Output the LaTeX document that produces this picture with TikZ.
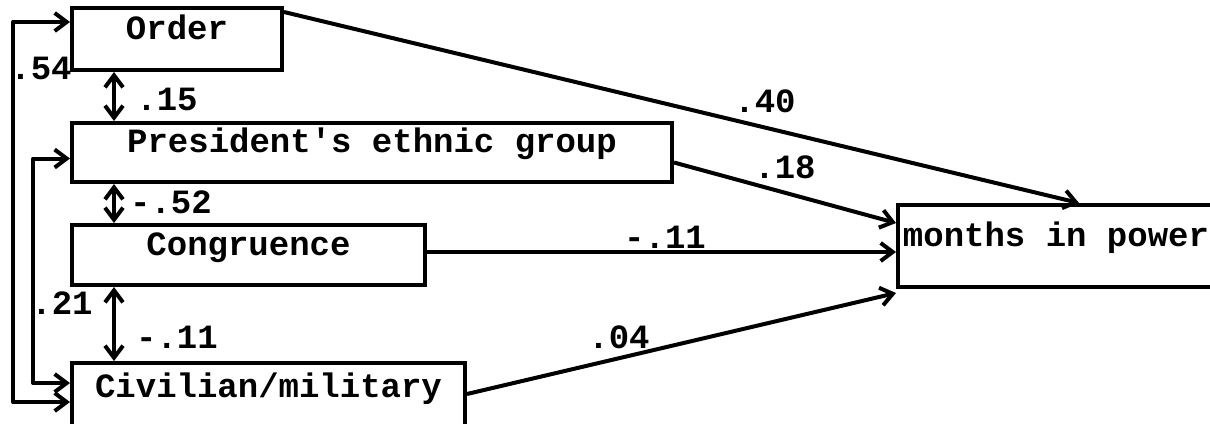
\documentclass[tikz,border=0pt]{standalone}
\usepackage{fontspec}
\setmonofont{Liberation Mono}
\usetikzlibrary{arrows.meta,calc}
\begin{document}
\begin{tikzpicture}[x=1pt,y=-1pt,
  txt/.style={font=\fontsize{34}{40}\selectfont\ttfamily\bfseries},
  box/.style={txt,draw,line width=4pt,rectangle,inner sep=0pt,
    text height=0pt,text depth=0pt},
  coef/.style={txt,inner sep=0pt},
  effect/.style={line width=4pt,-{Straight Barb[length=12pt,width=18pt]}},
  corr/.style={line width=4pt,line join=round,
    {Straight Barb[length=12pt,width=18pt]}-{Straight Barb[length=12pt,width=18pt]}}
]
\useasboundingbox (0,0) rectangle (1210,423);
\clip (0,0) rectangle (1210,423);

% variable boxes
\node[box,minimum width=210pt,minimum height=62pt] (Order) at (177,39) {Order};
\node[box,minimum width=600pt,minimum height=59pt] (Pres) at (372,152.5) {President's ethnic group};
\node[box,minimum width=353pt,minimum height=60pt] (Cong) at (248.5,255) {Congruence};
\node[box,minimum width=393pt,minimum height=68pt] (Civ) at (268.5,397) {Civilian/military};
\node[box,minimum width=316pt,minimum height=82pt] (Mon) at (1056,246) {months in power};

% correlations on the left
\draw[corr] ($(Order.west)+(0,-17)$) -- ++(-57,0) |- ($(Civ.west)+(0,5)$);
\draw[corr] ($(Pres.west)+(0,6)$) -- ++(-37,0) |- ($(Civ.west)+(0,-14)$);
\draw[corr] ($(Order.south west)+(44,0)$) -- ($(Pres.north west)+(44,0)$);
\draw[corr] ($(Pres.south west)+(44,0)$) -- ($(Cong.north west)+(44,0)$);
\draw[corr] ($(Cong.south west)+(44,0)$) -- ($(Civ.north west)+(44,0)$);

% paths to the outcome
\draw[effect] ($(Order.north east)+(0,6)$) -- ($(Mon.north west)+(183,0)$);
\draw[effect] ($(Pres.east)+(0,10)$) -- ($(Mon.west)+(0,-23)$);
\draw[effect] ($(Cong.east)+(0,-3)$) -- ($(Mon.west)+(0,6)$);
\draw[effect] ($(Civ.east)+(0,-3)$) -- ($(Mon.south west)+(0,4)$);

% coefficients
\node[coef] (c54) at (41,68) {.54};
\node[coef] (c15) at (167,99) {.15};
\node[coef] (c52) at (171,202) {-.52};
\node[coef] (c21) at (62,303) {.21};
\node[coef] (c11v) at (177,337) {-.11};
\node[coef] (c40) at (765,101) {.40};
\node[coef] (c18) at (785,167) {.18};
\node[coef] (c11h) at (665,237) {-.11};
\node[coef] (c04) at (619,337) {.04};
\end{tikzpicture}
\end{document}
